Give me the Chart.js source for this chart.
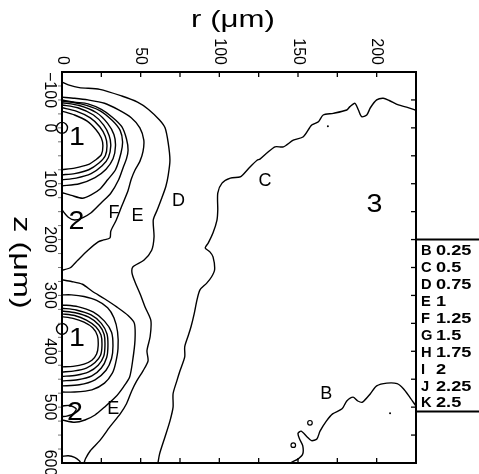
<!DOCTYPE html>
<html>
<head>
<meta charset="utf-8">
<script src="https://cdn.jsdelivr.net/npm/chart.js@4.4.0/dist/chart.umd.min.js"></script>
<style>
  html, body { margin: 0; padding: 0; background: #fff; }
</style>
</head>
<body>
<canvas id="plot" width="479" height="474"></canvas>
<script>
// contour lines, each point is [r, z] in micrometres
const contourB = [[225,498],[221,482],[217,467],[213,458],[206.5,457],[200,462],[196,476],[191,491],[188,489],[185,482],[181,489],[178,503],[172,512],[168,525],[164,543],[162,557],[158.6,560],[155.7,553],[152,543],[150,547],[151,557],[153,569],[153,584],[150,593],[147,597],[145,600]];
const contourC = [[224.4,-32],[219,-37],[213.8,-41],[208,-49],[204.2,-53],[200,-50],[196,-36],[193.7,-23],[190.5,-20],[188.4,-32],[186.2,-44],[183,-38],[181,-32],[172.4,-26],[166,-23],[163,-11],[158.7,-5],[153.4,16],[147,22],[140.7,34],[135.4,34],[130,45.6],[125.8,56],[124,58],[119.5,70],[115,84],[113,88],[107,90],[101.7,99],[99,117],[99,147],[98.5,165],[96,188],[93,206],[91,215],[94,222],[96,231],[97,254],[95,267],[92,278],[87.7,290],[85.8,308],[84,333],[82,356],[80,374],[78,392],[78,410],[75,435],[73,453],[70.6,476],[70.6,500],[68.6,525],[65.5,553],[62,584],[61,600]];
const contourD = [[0,-82],[4,-77],[11,-72],[24,-69],[38,-57],[48,-46],[55,-33],[62,-14],[65.5,0],[67.5,27],[68.6,58],[67.5,85],[66,105],[63.5,125],[60.5,147],[58,165],[58.5,195],[57,219],[52,237],[45,249],[44.5,260],[46.4,276],[49.6,297],[53,322],[56.5,345],[56,374],[54,399],[54.7,417],[51.5,435],[47.5,453],[44.3,471],[41,494],[37,512],[30.5,535],[24,560],[18,578],[15,592],[14,600]];
const contourE1 = [[0,-55],[8,-53],[16.5,-50],[27,-44],[36,-32],[44,-18],[49.5,0],[52,22],[51.5,42],[49.5,60],[46.5,75],[44,92],[42,112],[38,140],[34.5,165],[31,185],[30.5,197],[26,201],[23,204],[16.5,219],[10,237],[5.5,250],[0,255]];
const contourE2 = [[0,272],[6,275],[13,280],[19,292],[27,306],[35,321],[42,336],[46,350],[46.4,380],[45,415],[43,446],[39,464],[34,482],[27,500],[21,514],[14.6,523],[8,527],[0,523]];
const contourE3 = [[0,588],[4,587],[8,590],[11,596],[12,600]];
const contourF1 = [[0,-50],[8,-46],[16.5,-43],[25,-33],[32,-19],[38,-2],[41,20],[42,40],[41,55],[39,70],[36,93],[31,117],[25,134],[18.5,152],[13,161],[8,165],[4,160],[0,147]];
const contourF2 = [[0,299],[6,299],[14,302],[22,309],[29,322],[33,340],[35.3,365],[35.6,395],[34,422],[32,439],[27,457],[19,469],[8,473],[0,473]];
const contourF3 = [[0,498],[5,497],[9,503],[7,512],[3,516],[0,517]];
const contourG1 = [[0,-48],[12,-43],[24,-31],[32,-13],[37,5],[38.5,25],[37.5,45],[34,75],[29,93],[24,110],[18.5,120],[13,126],[6,121],[0,116]];
const contourG2 = [[0,317],[10,320],[20,330],[27,346],[31.5,366],[32.4,390],[31.5,413],[28,434],[21,451],[11,460],[0,462]];
const contourH1 = [[0,-45],[11,-40],[22,-27],[29,-8],[33,12],[34,32],[32.5,55],[28,74],[21,89],[11,100],[0,104]];
const contourH2 = [[0,323],[9,326],[18.5,335],[25,350],[28.6,369],[29.2,390],[28.4,411],[25,430],[19,444],[10,451],[0,453]];
const contourI1 = [[0,-41],[10,-36],[20,-23],[26.5,-5],[30,14],[31,32],[29.5,53],[25.5,68],[18.5,82],[9,90],[0,93]];
const contourI2 = [[0,328],[8.5,331],[17,339],[23.5,353],[26.8,370],[27.3,390],[26.5,409],[23,425],[17,437],[9,443],[0,445]];
const contourJ1 = [[0,-36],[9,-30],[18,-18],[24,-2],[27.5,15],[28.6,32],[27.5,50],[23.5,63],[17,75],[8,82],[0,84]];
const contourJ2 = [[0,333],[8,336],[15.5,344],[21.5,356],[24.8,371],[25.4,390],[24.5,407],[21,420],[15.5,430],[8,435],[0,437]];
const contourK1 = [[0,-30],[8,-23],[16,-12],[21.5,3],[25,18],[26,32],[25,48],[21.5,57],[16.5,66],[8,72],[0,75]];
const contourK2 = [[0,338],[7,341],[14,348],[19.5,358],[22.5,372],[23,390],[22,405],[19,416],[14,423],[7,427],[0,428]];

// source points on the axis, small closed loops and stray dots
const sourceR = [0, 0];
const sourceZ = [0, 360];
const loopR = [157.6, 147];
const loopZ = [528, 568];
const dotR = [208.5, 169];
const dotZ = [511, -3];

// axes
const rLabelTicks = [0, 50, 100, 150, 200];
const rMarkTicks = [0, 25, 50, 75, 100, 125, 150, 175, 200, 225];
const zLabelTicks = [-100, 0, 100, 200, 300, 400, 500, 600];
const zMarkTicks = [-50, 0, 50, 100, 150, 200, 250, 300, 350, 400, 450, 500, 550];
const zMinorTicks = [-75, -50, -25, 0, 25, 50, 75, 100, 125, 150, 175, 200, 225, 250, 275, 300, 325, 350, 375, 400, 425, 450, 475, 500, 525, 550, 575];

// level key
const levelLetters = ['B', 'C', 'D', 'E', 'F', 'G', 'H', 'I', 'J', 'K'];
const levelValues = ['0.25', '0.5', '0.75', '1', '1.25', '1.5', '1.75', '2', '2.25', '2.5'];

// labels written inside the plot
const lineLabelText = ['C', 'D', 'E', 'F', 'E', 'B'];
const lineLabelR = [129, 74, 48, 33, 32.5, 168];
const lineLabelZ = [95, 131, 158, 152, 503, 476];
const regionText = ['1', '1', '2', '2', '3'];
const regionR = [9.5, 9.5, 9.2, 8.3, 198.6];
const regionZ = [17, 378, 168, 510, 138];

const toPts = arr => arr.map(([r, z]) => ({ x: r, y: z }));
const zip = (rs, zs) => rs.map((r, i) => ({ x: r, y: zs[i] }));

const contours = [contourB, contourC, contourD, contourE1, contourE2, contourE3,
  contourF1, contourF2, contourF3, contourG1, contourG2, contourH1, contourH2,
  contourI1, contourI2, contourJ1, contourJ2, contourK1, contourK2];

const datasets = contours.map(c => ({
  data: toPts(c),
  showLine: true,
  borderColor: '#000',
  borderWidth: 1.4,
  pointRadius: 0,
  tension: 0.25
}));
datasets.push({
  data: zip(sourceR, sourceZ), showLine: false, pointRadius: 5.5,
  pointBorderColor: '#000', pointBackgroundColor: 'rgba(0,0,0,0)', pointBorderWidth: 1.4, clip: false
});
datasets.push({
  data: zip(loopR, loopZ), showLine: false, pointRadius: 2.3,
  pointBorderColor: '#000', pointBackgroundColor: 'rgba(0,0,0,0)', pointBorderWidth: 1.2
});
datasets.push({
  data: zip(dotR, dotZ), showLine: false, pointRadius: 1,
  pointBorderColor: '#000', pointBackgroundColor: '#000', pointBorderWidth: 0
});

function line(ctx, x1, y1, x2, y2) {
  ctx.beginPath(); ctx.moveTo(x1, y1); ctx.lineTo(x2, y2); ctx.stroke();
}

// text turned a quarter turn clockwise, reading downwards
function downText(ctx, str, x, y, align, font, stretch) {
  ctx.save();
  ctx.translate(x, y);
  ctx.rotate(Math.PI / 2);
  ctx.scale(stretch, 1);
  ctx.font = font;
  ctx.textAlign = align;
  ctx.textBaseline = 'middle';
  ctx.fillText(str, 0, 0);
  ctx.restore();
}

function flatText(ctx, str, x, y, align, font, stretch) {
  ctx.save();
  ctx.translate(x, y);
  ctx.scale(stretch, 1);
  ctx.font = font;
  ctx.textAlign = align;
  ctx.textBaseline = 'middle';
  ctx.fillText(str, 0, 0);
  ctx.restore();
}

const decor = {
  id: 'decor',
  afterDatasetsDraw(chart) {
    const { ctx, chartArea: a, scales: { x, y } } = chart;
    ctx.save();
    ctx.fillStyle = '#000';
    ctx.strokeStyle = '#000';

    // frame
    ctx.lineWidth = 2;
    ctx.strokeRect(a.left, a.top, a.right - a.left, a.bottom - a.top);

    // tick marks
    ctx.lineWidth = 1.3;
    rMarkTicks.forEach(v => {
      const px = x.getPixelForValue(v);
      line(ctx, px, a.top, px, a.top + 5);
      line(ctx, px, a.bottom, px, a.bottom - 5);
    });
    zMarkTicks.forEach(v => {
      const py = y.getPixelForValue(v);
      line(ctx, a.right, py, a.right - 5, py);
    });
    ctx.strokeStyle = '#777';
    ctx.lineWidth = 1;
    zMinorTicks.forEach(v => {
      const py = y.getPixelForValue(v);
      line(ctx, a.left - 4, py, a.left - 1, py);
    });

    // tick labels
    const tickFont = '16px "Liberation Sans", Arial, sans-serif';
    rLabelTicks.forEach(v => {
      downText(ctx, String(v), x.getPixelForValue(v), a.top - 7, 'right', tickFont, 1.0);
    });
    ctx.font = tickFont;
    zLabelTicks.forEach(v => {
      const s = v < 0 ? '\u2212' + Math.abs(v) : String(v);
      const w = ctx.measureText(s).width;
      let cy = y.getPixelForValue(v);
      if (cy - w / 2 < a.top) cy = a.top + w / 2;
      downText(ctx, s, a.left - 13, cy, 'center', tickFont, 1.0);
    });

    // axis titles
    flatText(ctx, 'r (\u03bcm)', (a.left + a.right) / 2 - 6, 20, 'center', '24px "Liberation Sans", Arial, sans-serif', 1.3);
    ctx.save();
    ctx.translate(21, (a.top + a.bottom) / 2 - 5);
    ctx.rotate(Math.PI / 2);
    ctx.scale(1.35, 1);
    ctx.font = '24px "Liberation Sans", Arial, sans-serif';
    ctx.textAlign = 'center';
    ctx.textBaseline = 'middle';
    ctx.fillText('z (\u03bcm)', 0, 0);
    ctx.restore();

    // contour letters and region numbers
    lineLabelText.forEach((t, i) => {
      flatText(ctx, t, x.getPixelForValue(lineLabelR[i]), y.getPixelForValue(lineLabelZ[i]), 'center', '18px "Liberation Sans", Arial, sans-serif', 1.0);
    });
    regionText.forEach((t, i) => {
      flatText(ctx, t, x.getPixelForValue(regionR[i]), y.getPixelForValue(regionZ[i]), 'center', '26px "Liberation Sans", Arial, sans-serif', 1.1);
    });

    // level key to the right of the frame
    const w = chart.width;
    const keyTop = y.getPixelForValue(200);
    const keyBottom = keyTop + 172;
    ctx.strokeStyle = '#000';
    ctx.lineWidth = 2;
    line(ctx, a.right, keyTop, w, keyTop);
    line(ctx, a.right, keyBottom, w, keyBottom);
    const step = (keyBottom - keyTop - 20) / (levelLetters.length - 1);
    const keyFont = 'bold 14px "Liberation Sans", Arial, sans-serif';
    levelLetters.forEach((l, i) => {
      const cy = keyTop + 12 + i * step;
      flatText(ctx, l, a.right + 5, cy, 'left', keyFont, 1.05);
      flatText(ctx, levelValues[i], a.right + 20, cy, 'left', keyFont, 1.3);
    });
    ctx.restore();
  }
};

new Chart(document.getElementById('plot'), {
  type: 'scatter',
  data: { datasets },
  options: {
    responsive: false,
    animation: false,
    layout: { padding: { left: 62, top: 72, right: 63, bottom: 11 } },
    plugins: { legend: { display: false }, tooltip: { enabled: false } },
    scales: {
      x: { type: 'linear', min: 0, max: 225, display: false },
      y: { type: 'linear', min: -100, max: 600, reverse: true, display: false }
    }
  },
  plugins: [decor]
});
</script>
</body>
</html>
